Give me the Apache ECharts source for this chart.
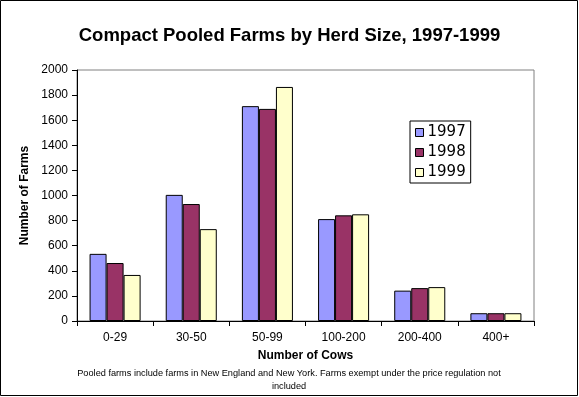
<!DOCTYPE html>
<html><head><meta charset="utf-8">
<script src="https://cdn.jsdelivr.net/npm/echarts@6/dist/echarts.min.js"></script>
<style>html,body{margin:0;padding:0;background:#fff}#c{width:579px;height:397px}</style>
</head><body><div id="c"></div>
<script>
const categories = ['0-29', '30-50', '50-99', '100-200', '200-400', '400+'];
const seriesNames = ['1997', '1998', '1999'];
const v1997 = [535, 1005, 1712, 812, 242, 62];
const v1998 = [462, 932, 1690, 842, 262, 62];
const v1999 = [367, 732, 1865, 850, 270, 62];
const colors = ['#9999FF', '#993366', '#FFFFCC'];
const values = [v1997, v1998, v1999];
const font = 'Arial, "Liberation Sans", sans-serif';

const chart = echarts.init(document.getElementById('c'), null, {renderer: 'canvas'});
chart.setOption({
  animation: false,
  backgroundColor: '#fff',
  title: {
    text: 'Compact Pooled Farms by Herd Size, 1997-1999',
    left: 'center', top: 21,
    textStyle: {fontFamily: font, fontSize: 18.5, fontWeight: 'bold', color: '#000'}
  },
  legend: {
    orient: 'vertical', left: 410, top: 121,
    itemWidth: 8, itemHeight: 8, itemGap: 5,
    padding: [4, 5, 3, 5],
    borderColor: '#000', borderWidth: 1, backgroundColor: '#fff',
    icon: 'rect',
    itemStyle: {borderColor: '#000', borderWidth: 1},
    textStyle: {fontFamily: '"DejaVu Sans", sans-serif', fontSize: 15, lineHeight: 15, color: '#000', padding: [0, 0, 0, -1]},
    data: seriesNames
  },
  grid: {left: 77, right: 45, top: 70, bottom: 76, show: true, borderColor: '#808080', borderWidth: 1},
  xAxis: {
    type: 'category', data: categories,
    name: 'Number of Cows', nameLocation: 'middle', nameGap: 29,
    nameTextStyle: {fontFamily: font, fontSize: 12, fontWeight: 'bold', color: '#000'},
    axisLine: {lineStyle: {color: '#000', width: 1}},
    axisTick: {show: true, length: 5, lineStyle: {color: '#000'}},
    axisLabel: {fontFamily: font, fontSize: 12, color: '#000', margin: 11}
  },
  yAxis: {
    type: 'value', min: 0, max: 2000, interval: 200,
    name: 'Number of Farms', nameLocation: 'middle', nameGap: 46,
    nameTextStyle: {fontFamily: font, fontSize: 12, fontWeight: 'bold', color: '#000'},
    axisLine: {show: true, lineStyle: {color: '#000', width: 1}},
    axisTick: {show: true, length: 5, lineStyle: {color: '#000'}},
    axisLabel: {fontFamily: font, fontSize: 12, color: '#000', margin: 9, formatter: v => String(v)},
    splitLine: {show: false}
  },
  series: seriesNames.map((n, i) => ({
    name: n, type: 'bar', data: values[i],
    barGap: '0%', barCategoryGap: '33%',
    itemStyle: {color: colors[i], borderColor: '#000', borderWidth: 1}
  })),
  graphic: [
    {type: 'rect', shape: {x: 0.5, y: 0.5, width: 577, height: 395}, style: {fill: null, stroke: '#000', lineWidth: 1}, silent: true},
    {type: 'text', x: 289, y: 367, style: {text: 'Pooled farms include farms in New England and New York. Farms exempt under the price regulation not\nincluded', font: '9.2px ' + font, fill: '#000', align: 'center', verticalAlign: 'top', lineHeight: 13}}
  ]
});
</script></body></html>
